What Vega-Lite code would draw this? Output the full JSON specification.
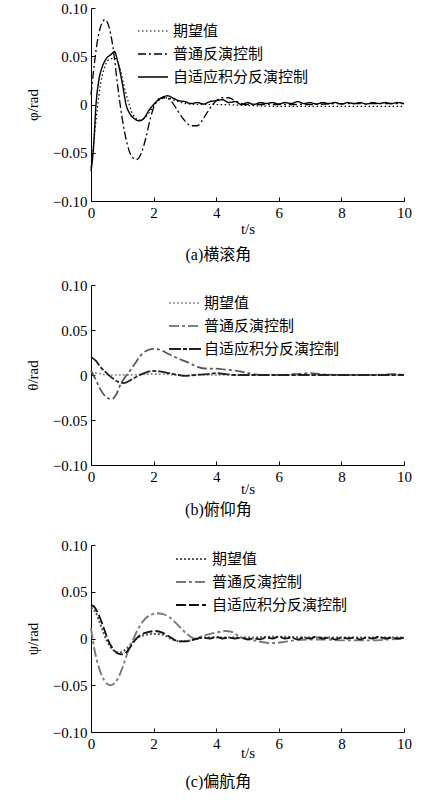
{
"$schema": "https://vega.github.io/schema/vega-lite/v6.json",
"background": "white",
"padding": {"left": 25, "top": 1, "right": 5, "bottom": 0},
"spacing": 20,
"config": {
 "view": {"stroke": null},
 "axis": {"grid": false, "domainColor": "black", "domainWidth": 1, "tickColor": "black", "tickSize": -4, "labelPadding": 8, "labelFont": "Liberation Serif, Times New Roman, serif", "labelFontSize": 15, "labelColor": "black", "titleFont": "Liberation Serif, Times New Roman, serif", "titleFontSize": 15, "titleFontWeight": "normal", "titleColor": "black"},
 "axisY": {"titlePadding": 12},
 "axisX": {"titlePadding": 1, "labelFlush": false},
 "legend": {"orient": "none", "title": null, "labelFont": "Noto Sans CJK SC", "labelFontSize": 15, "labelColor": "black", "symbolType": "M-1.5,0H1.5", "symbolSize": 400, "rowPadding": 4, "padding": 0},
 "title": {"font": "Liberation Serif, Noto Sans CJK SC", "fontSize": 16, "fontWeight": "normal", "color": "black", "orient": "bottom", "frame": "bounds", "anchor": "middle"}
},
"resolve": {"scale": {"x": "independent", "y": "independent", "color": "independent", "strokeDash": "independent", "strokeWidth": "independent"}, "legend": {"color": "independent", "strokeDash": "independent", "strokeWidth": "independent"}},
"vconcat": [
{
"spacing": 15,
"resolve": {"scale": {"x": "independent", "y": "independent", "color": "independent", "strokeDash": "independent", "strokeWidth": "independent"}, "legend": {"color": "independent", "strokeDash": "independent", "strokeWidth": "independent"}},
"vconcat": [
{
 "width": 313, "height": 193,
 "title": {"text": "(a)横滚角", "offset": 11},
 "data": {"values": [
  {"s":"期望值","t":0,"v":-0.065},{"s":"期望值","t":0.1,"v":-0.035},{"s":"期望值","t":0.2,"v":-0.005},{"s":"期望值","t":0.3,"v":0.02},{"s":"期望值","t":0.45,"v":0.04},{"s":"期望值","t":0.6,"v":0.047},{"s":"期望值","t":0.75,"v":0.048},{"s":"期望值","t":0.9,"v":0.04},{"s":"期望值","t":1.05,"v":0.02},{"s":"期望值","t":1.2,"v":0.002},{"s":"期望值","t":1.35,"v":-0.011},{"s":"期望值","t":1.55,"v":-0.016},{"s":"期望值","t":1.75,"v":-0.013},{"s":"期望值","t":1.95,"v":-0.004},{"s":"期望值","t":2.15,"v":0.004},{"s":"期望值","t":2.4,"v":0.007},{"s":"期望值","t":2.7,"v":0.004},{"s":"期望值","t":3.0,"v":0.001},{"s":"期望值","t":3.5,"v":0},{"s":"期望值","t":4,"v":0},{"s":"期望值","t":5,"v":-0.001},{"s":"期望值","t":6,"v":-0.002},{"s":"期望值","t":7,"v":-0.002},{"s":"期望值","t":8,"v":-0.002},{"s":"期望值","t":9,"v":-0.002},{"s":"期望值","t":10,"v":-0.002},
  {"s":"普通反演控制","t":0,"v":0.01},{"s":"普通反演控制","t":0.1,"v":0.04},{"s":"普通反演控制","t":0.2,"v":0.065},{"s":"普通反演控制","t":0.3,"v":0.08},{"s":"普通反演控制","t":0.45,"v":0.088},{"s":"普通反演控制","t":0.55,"v":0.083},{"s":"普通反演控制","t":0.7,"v":0.06},{"s":"普通反演控制","t":0.85,"v":0.02},{"s":"普通反演控制","t":1.0,"v":-0.015},{"s":"普通反演控制","t":1.15,"v":-0.04},{"s":"普通反演控制","t":1.3,"v":-0.054},{"s":"普通反演控制","t":1.45,"v":-0.057},{"s":"普通反演控制","t":1.6,"v":-0.051},{"s":"普通反演控制","t":1.75,"v":-0.035},{"s":"普通反演控制","t":1.9,"v":-0.014},{"s":"普通反演控制","t":2.05,"v":0.001},{"s":"普通反演控制","t":2.2,"v":0.006},{"s":"普通反演控制","t":2.4,"v":0.007},{"s":"普通反演控制","t":2.6,"v":0.002},{"s":"普通反演控制","t":2.8,"v":-0.008},{"s":"普通反演控制","t":3.0,"v":-0.017},{"s":"普通反演控制","t":3.2,"v":-0.022},{"s":"普通反演控制","t":3.4,"v":-0.022},{"s":"普通反演控制","t":3.6,"v":-0.014},{"s":"普通反演控制","t":3.8,"v":-0.004},{"s":"普通反演控制","t":4.0,"v":0.004},{"s":"普通反演控制","t":4.2,"v":0.007},{"s":"普通反演控制","t":4.4,"v":0.007},{"s":"普通反演控制","t":4.6,"v":0.004},{"s":"普通反演控制","t":4.8,"v":0.001},{"s":"普通反演控制","t":5.0,"v":0},{"s":"普通反演控制","t":6,"v":0},{"s":"普通反演控制","t":7,"v":0},{"s":"普通反演控制","t":8,"v":0.001},{"s":"普通反演控制","t":9,"v":0.001},{"s":"普通反演控制","t":10,"v":0.001},
  {"s":"自适应积分反演控制","t":0,"v":-0.069},{"s":"自适应积分反演控制","t":0.08,"v":-0.045},{"s":"自适应积分反演控制","t":0.16,"v":0},{"s":"自适应积分反演控制","t":0.25,"v":0.025},{"s":"自适应积分反演控制","t":0.35,"v":0.038},{"s":"自适应积分反演控制","t":0.5,"v":0.048},{"s":"自适应积分反演控制","t":0.65,"v":0.052},{"s":"自适应积分反演控制","t":0.75,"v":0.055},{"s":"自适应积分反演控制","t":0.85,"v":0.045},{"s":"自适应积分反演控制","t":1.0,"v":0.022},{"s":"自适应积分反演控制","t":1.12,"v":0},{"s":"自适应积分反演控制","t":1.25,"v":-0.01},{"s":"自适应积分反演控制","t":1.4,"v":-0.015},{"s":"自适应积分反演控制","t":1.55,"v":-0.017},{"s":"自适应积分反演控制","t":1.7,"v":-0.014},{"s":"自适应积分反演控制","t":1.85,"v":-0.006},{"s":"自适应积分反演控制","t":2.0,"v":0},{"s":"自适应积分反演控制","t":2.2,"v":0.006},{"s":"自适应积分反演控制","t":2.45,"v":0.009},{"s":"自适应积分反演控制","t":2.6,"v":0.007},{"s":"自适应积分反演控制","t":2.8,"v":0.004},{"s":"自适应积分反演控制","t":3.0,"v":0.003},{"s":"自适应积分反演控制","t":3.2,"v":0.001},{"s":"自适应积分反演控制","t":3.4,"v":0.002},{"s":"自适应积分反演控制","t":3.6,"v":0.0005},{"s":"自适应积分反演控制","t":3.8,"v":0.003},{"s":"自适应积分反演控制","t":4.0,"v":0.004},{"s":"自适应积分反演控制","t":4.2,"v":0.005},{"s":"自适应积分反演控制","t":4.4,"v":0.002},{"s":"自适应积分反演控制","t":4.6,"v":0.003},{"s":"自适应积分反演控制","t":4.8,"v":0},{"s":"自适应积分反演控制","t":5.0,"v":0.002},{"s":"自适应积分反演控制","t":5.2,"v":0},{"s":"自适应积分反演控制","t":5.4,"v":0.002},{"s":"自适应积分反演控制","t":5.6,"v":0.001},{"s":"自适应积分反演控制","t":5.8,"v":0.002},{"s":"自适应积分反演控制","t":6.0,"v":0.0005},{"s":"自适应积分反演控制","t":6.2,"v":0.002},{"s":"自适应积分反演控制","t":6.4,"v":0.001},{"s":"自适应积分反演控制","t":6.6,"v":0.003},{"s":"自适应积分反演控制","t":6.8,"v":0.001},{"s":"自适应积分反演控制","t":7.0,"v":0.002},{"s":"自适应积分反演控制","t":7.2,"v":0.0005},{"s":"自适应积分反演控制","t":7.4,"v":0.002},{"s":"自适应积分反演控制","t":7.6,"v":0.001},{"s":"自适应积分反演控制","t":7.8,"v":0.002},{"s":"自适应积分反演控制","t":8.0,"v":0.0005},{"s":"自适应积分反演控制","t":8.2,"v":0.002},{"s":"自适应积分反演控制","t":8.4,"v":0.001},{"s":"自适应积分反演控制","t":8.6,"v":0.002},{"s":"自适应积分反演控制","t":8.8,"v":0.0005},{"s":"自适应积分反演控制","t":9.0,"v":0.002},{"s":"自适应积分反演控制","t":9.2,"v":0.001},{"s":"自适应积分反演控制","t":9.4,"v":0.002},{"s":"自适应积分反演控制","t":9.6,"v":0.001},{"s":"自适应积分反演控制","t":9.8,"v":0.002},{"s":"自适应积分反演控制","t":10,"v":0.001}
 ]},
 "mark": {"type": "line", "interpolate": "monotone"},
 "encoding": {
  "x": {"field": "t", "type": "quantitative", "scale": {"domain": [0, 10], "nice": false, "zero": false}, "axis": {"title": "t/s", "values": [0, 2, 4, 6, 8, 10]}},
  "y": {"field": "v", "type": "quantitative", "scale": {"domain": [-0.1, 0.1], "nice": false}, "axis": {"title": "φ/rad", "values": [-0.1, -0.05, 0, 0.05, 0.1], "labelExpr": "datum.value == 0 ? '0' : format(datum.value, '.2f')"}},
  "color": {"field": "s", "type": "nominal", "scale": {"domain": ["期望值", "普通反演控制", "自适应积分反演控制"], "range": ["#000000", "#000000", "#000000"]}, "legend": {"legendX": 51, "legendY": 12, "labelOffset": 9}},
  "strokeDash": {"field": "s", "type": "nominal", "scale": {"domain": ["期望值", "普通反演控制", "自适应积分反演控制"], "range": [[1.5, 2.5], [8, 3, 2, 3], [1, 0]]}},
  "strokeWidth": {"field": "s", "type": "nominal", "scale": {"domain": ["期望值", "普通反演控制", "自适应积分反演控制"], "range": [1.2, 1.4, 2.2]}}
 }
},
{
 "width": 313, "height": 180,
 "title": {"text": "(b)俯仰角", "offset": 6},
 "data": {"values": [
  {"s":"期望值","t":0,"v":0.003},{"s":"期望值","t":0.2,"v":0.002},{"s":"期望值","t":0.4,"v":0.0005},{"s":"期望值","t":0.6,"v":0},{"s":"期望值","t":1,"v":0},{"s":"期望值","t":2,"v":0.001},{"s":"期望值","t":3,"v":0},{"s":"期望值","t":5,"v":0},{"s":"期望值","t":7,"v":0},{"s":"期望值","t":10,"v":0},
  {"s":"普通反演控制","t":0,"v":0.005},{"s":"普通反演控制","t":0.15,"v":-0.005},{"s":"普通反演控制","t":0.3,"v":-0.016},{"s":"普通反演控制","t":0.5,"v":-0.025},{"s":"普通反演控制","t":0.67,"v":-0.027},{"s":"普通反演控制","t":0.8,"v":-0.022},{"s":"普通反演控制","t":0.95,"v":-0.01},{"s":"普通反演控制","t":1.1,"v":-0.002},{"s":"普通反演控制","t":1.25,"v":0.005},{"s":"普通反演控制","t":1.45,"v":0.015},{"s":"普通反演控制","t":1.65,"v":0.024},{"s":"普通反演控制","t":1.85,"v":0.028},{"s":"普通反演控制","t":2.0,"v":0.029},{"s":"普通反演控制","t":2.2,"v":0.028},{"s":"普通反演控制","t":2.5,"v":0.023},{"s":"普通反演控制","t":2.8,"v":0.018},{"s":"普通反演控制","t":3.1,"v":0.014},{"s":"普通反演控制","t":3.4,"v":0.009},{"s":"普通反演控制","t":3.7,"v":0.007},{"s":"普通反演控制","t":4.0,"v":0.007},{"s":"普通反演控制","t":4.3,"v":0.006},{"s":"普通反演控制","t":4.6,"v":0.005},{"s":"普通反演控制","t":4.9,"v":0.003},{"s":"普通反演控制","t":5.2,"v":0.001},{"s":"普通反演控制","t":5.5,"v":0},{"s":"普通反演控制","t":6,"v":0},{"s":"普通反演控制","t":6.5,"v":0.001},{"s":"普通反演控制","t":7,"v":0.002},{"s":"普通反演控制","t":7.3,"v":0.001},{"s":"普通反演控制","t":8,"v":0},{"s":"普通反演控制","t":9,"v":0},{"s":"普通反演控制","t":9.7,"v":0.001},{"s":"普通反演控制","t":10,"v":0},
  {"s":"自适应积分反演控制","t":0,"v":0.02},{"s":"自适应积分反演控制","t":0.15,"v":0.016},{"s":"自适应积分反演控制","t":0.3,"v":0.009},{"s":"自适应积分反演控制","t":0.5,"v":0.002},{"s":"自适应积分反演控制","t":0.7,"v":-0.004},{"s":"自适应积分反演控制","t":0.9,"v":-0.008},{"s":"自适应积分反演控制","t":1.05,"v":-0.009},{"s":"自适应积分反演控制","t":1.25,"v":-0.006},{"s":"自适应积分反演控制","t":1.45,"v":-0.002},{"s":"自适应积分反演控制","t":1.7,"v":0.002},{"s":"自适应积分反演控制","t":1.95,"v":0.0045},{"s":"自适应积分反演控制","t":2.2,"v":0.004},{"s":"自适应积分反演控制","t":2.5,"v":0.002},{"s":"自适应积分反演控制","t":2.8,"v":0},{"s":"自适应积分反演控制","t":3.0,"v":-0.001},{"s":"自适应积分反演控制","t":3.3,"v":0},{"s":"自适应积分反演控制","t":3.7,"v":0.001},{"s":"自适应积分反演控制","t":4.0,"v":0.002},{"s":"自适应积分反演控制","t":4.3,"v":0.001},{"s":"自适应积分反演控制","t":4.6,"v":0},{"s":"自适应积分反演控制","t":5,"v":0},{"s":"自适应积分反演控制","t":6,"v":0},{"s":"自适应积分反演控制","t":7,"v":0},{"s":"自适应积分反演控制","t":8,"v":0},{"s":"自适应积分反演控制","t":9,"v":0},{"s":"自适应积分反演控制","t":10,"v":0}
 ]},
 "mark": {"type": "line", "interpolate": "monotone"},
 "encoding": {
  "x": {"field": "t", "type": "quantitative", "scale": {"domain": [0, 10], "nice": false, "zero": false}, "axis": {"title": "t/s", "values": [0, 2, 4, 6, 8, 10], "titlePadding": -3}},
  "y": {"field": "v", "type": "quantitative", "scale": {"domain": [-0.1, 0.1], "nice": false}, "axis": {"title": "θ/rad", "values": [-0.1, -0.05, 0, 0.05, 0.1], "labelExpr": "datum.value == 0 ? '0' : format(datum.value, '.2f')"}},
  "color": {"field": "s", "type": "nominal", "scale": {"domain": ["期望值", "普通反演控制", "自适应积分反演控制"], "range": ["#888888", "#555555", "#222222"]}, "legend": {"legendX": 83, "legendY": 7, "labelOffset": 8, "symbolType": "M-1.6,0H1.6"}},
  "strokeDash": {"field": "s", "type": "nominal", "scale": {"domain": ["期望值", "普通反演控制", "自适应积分反演控制"], "range": [[2, 2], [10, 3, 3, 3], [12, 2, 4, 2]]}},
  "strokeWidth": {"field": "s", "type": "nominal", "scale": {"domain": ["期望值", "普通反演控制", "自适应积分反演控制"], "range": [1.6, 1.8, 2.2]}}
 }
}
]
},
{
 "width": 313, "height": 187,
 "title": {"text": "(c)偏航角", "offset": 14},
 "data": {"values": [
  {"s":"期望值","t":0,"v":0.033},{"s":"期望值","t":0.15,"v":0.028},{"s":"期望值","t":0.3,"v":0.015},{"s":"期望值","t":0.5,"v":-0.002},{"s":"期望值","t":0.7,"v":-0.012},{"s":"期望值","t":0.9,"v":-0.015},{"s":"期望值","t":1.1,"v":-0.012},{"s":"期望值","t":1.3,"v":-0.005},{"s":"期望值","t":1.5,"v":0.001},{"s":"期望值","t":1.75,"v":0.004},{"s":"期望值","t":2.0,"v":0.005},{"s":"期望值","t":2.3,"v":0.004},{"s":"期望值","t":2.6,"v":-0.001},{"s":"期望值","t":2.9,"v":-0.003},{"s":"期望值","t":3.2,"v":-0.002},{"s":"期望值","t":3.6,"v":0.001},{"s":"期望值","t":4,"v":0.001},{"s":"期望值","t":5,"v":0.001},{"s":"期望值","t":6,"v":0.002},{"s":"期望值","t":7,"v":0.001},{"s":"期望值","t":8,"v":0.001},{"s":"期望值","t":9,"v":0.001},{"s":"期望值","t":10,"v":0.001},
  {"s":"普通反演控制","t":0,"v":0.011},{"s":"普通反演控制","t":0.1,"v":-0.01},{"s":"普通反演控制","t":0.2,"v":-0.025},{"s":"普通反演控制","t":0.35,"v":-0.04},{"s":"普通反演控制","t":0.5,"v":-0.048},{"s":"普通反演控制","t":0.62,"v":-0.05},{"s":"普通反演控制","t":0.75,"v":-0.048},{"s":"普通反演控制","t":0.9,"v":-0.04},{"s":"普通反演控制","t":1.05,"v":-0.027},{"s":"普通反演控制","t":1.2,"v":-0.012},{"s":"普通反演控制","t":1.36,"v":0},{"s":"普通反演控制","t":1.5,"v":0.01},{"s":"普通反演控制","t":1.7,"v":0.02},{"s":"普通反演控制","t":1.9,"v":0.025},{"s":"普通反演控制","t":2.1,"v":0.027},{"s":"普通反演控制","t":2.3,"v":0.026},{"s":"普通反演控制","t":2.5,"v":0.023},{"s":"普通反演控制","t":2.7,"v":0.017},{"s":"普通反演控制","t":2.9,"v":0.01},{"s":"普通反演控制","t":3.1,"v":0.004},{"s":"普通反演控制","t":3.33,"v":0},{"s":"普通反演控制","t":3.5,"v":0.002},{"s":"普通反演控制","t":3.8,"v":0.005},{"s":"普通反演控制","t":4.1,"v":0.007},{"s":"普通反演控制","t":4.3,"v":0.008},{"s":"普通反演控制","t":4.5,"v":0.007},{"s":"普通反演控制","t":4.7,"v":0.003},{"s":"普通反演控制","t":4.9,"v":0},{"s":"普通反演控制","t":5.2,"v":-0.002},{"s":"普通反演控制","t":5.5,"v":-0.004},{"s":"普通反演控制","t":5.8,"v":-0.005},{"s":"普通反演控制","t":6.1,"v":-0.004},{"s":"普通反演控制","t":6.5,"v":-0.002},{"s":"普通反演控制","t":7,"v":-0.001},{"s":"普通反演控制","t":7.5,"v":-0.001},{"s":"普通反演控制","t":8,"v":-0.002},{"s":"普通反演控制","t":8.5,"v":-0.002},{"s":"普通反演控制","t":9,"v":-0.002},{"s":"普通反演控制","t":9.5,"v":-0.001},{"s":"普通反演控制","t":10,"v":0},
  {"s":"自适应积分反演控制","t":0,"v":0.036},{"s":"自适应积分反演控制","t":0.1,"v":0.034},{"s":"自适应积分反演控制","t":0.25,"v":0.025},{"s":"自适应积分反演控制","t":0.4,"v":0.012},{"s":"自适应积分反演控制","t":0.55,"v":-0.002},{"s":"自适应积分反演控制","t":0.7,"v":-0.011},{"s":"自适应积分反演控制","t":0.85,"v":-0.016},{"s":"自适应积分反演控制","t":1.0,"v":-0.017},{"s":"自适应积分反演控制","t":1.15,"v":-0.014},{"s":"自适应积分反演控制","t":1.3,"v":-0.007},{"s":"自适应积分反演控制","t":1.45,"v":0},{"s":"自适应积分反演控制","t":1.65,"v":0.005},{"s":"自适应积分反演控制","t":1.85,"v":0.007},{"s":"自适应积分反演控制","t":2.05,"v":0.008},{"s":"自适应积分反演控制","t":2.3,"v":0.006},{"s":"自适应积分反演控制","t":2.55,"v":0.001},{"s":"自适应积分反演控制","t":2.8,"v":-0.003},{"s":"自适应积分反演控制","t":3.0,"v":-0.003},{"s":"自适应积分反演控制","t":3.3,"v":-0.001},{"s":"自适应积分反演控制","t":3.6,"v":0.001},{"s":"自适应积分反演控制","t":3.8,"v":0},{"s":"自适应积分反演控制","t":4.0,"v":0.002},{"s":"自适应积分反演控制","t":4.2,"v":0},{"s":"自适应积分反演控制","t":4.4,"v":0.001},{"s":"自适应积分反演控制","t":4.6,"v":0},{"s":"自适应积分反演控制","t":4.8,"v":0.001},{"s":"自适应积分反演控制","t":5.0,"v":-0.001},{"s":"自适应积分反演控制","t":5.2,"v":0},{"s":"自适应积分反演控制","t":5.4,"v":-0.001},{"s":"自适应积分反演控制","t":5.6,"v":0.001},{"s":"自适应积分反演控制","t":5.8,"v":0},{"s":"自适应积分反演控制","t":6.0,"v":0.002},{"s":"自适应积分反演控制","t":6.2,"v":0},{"s":"自适应积分反演控制","t":6.4,"v":0.001},{"s":"自适应积分反演控制","t":6.6,"v":-0.001},{"s":"自适应积分反演控制","t":6.8,"v":0.001},{"s":"自适应积分反演控制","t":7.0,"v":0},{"s":"自适应积分反演控制","t":7.2,"v":0.002},{"s":"自适应积分反演控制","t":7.4,"v":0},{"s":"自适应积分反演控制","t":7.6,"v":0.001},{"s":"自适应积分反演控制","t":7.8,"v":-0.001},{"s":"自适应积分反演控制","t":8.0,"v":0.001},{"s":"自适应积分反演控制","t":8.2,"v":0},{"s":"自适应积分反演控制","t":8.4,"v":0.001},{"s":"自适应积分反演控制","t":8.6,"v":-0.001},{"s":"自适应积分反演控制","t":8.8,"v":0.001},{"s":"自适应积分反演控制","t":9.0,"v":0},{"s":"自适应积分反演控制","t":9.2,"v":0.002},{"s":"自适应积分反演控制","t":9.4,"v":0},{"s":"自适应积分反演控制","t":9.6,"v":0.001},{"s":"自适应积分反演控制","t":9.8,"v":0},{"s":"自适应积分反演控制","t":10,"v":0.001}
 ]},
 "mark": {"type": "line", "interpolate": "monotone"},
 "encoding": {
  "x": {"field": "t", "type": "quantitative", "scale": {"domain": [0, 10], "nice": false, "zero": false}, "axis": {"title": "t/s", "values": [0, 2, 4, 6, 8, 10], "titlePadding": -6}},
  "y": {"field": "v", "type": "quantitative", "scale": {"domain": [-0.1, 0.1], "nice": false}, "axis": {"title": "ψ/rad", "values": [-0.1, -0.05, 0, 0.05, 0.1], "labelExpr": "datum.value == 0 ? '0' : format(datum.value, '.2f')"}},
  "color": {"field": "s", "type": "nominal", "scale": {"domain": ["期望值", "普通反演控制", "自适应积分反演控制"], "range": ["#555555", "#777777", "#111111"]}, "legend": {"legendX": 89, "legendY": 3, "labelOffset": 10}},
  "strokeDash": {"field": "s", "type": "nominal", "scale": {"domain": ["期望值", "普通反演控制", "自适应积分反演控制"], "range": [[2, 2], [10, 3, 3, 3], [10, 3]]}},
  "strokeWidth": {"field": "s", "type": "nominal", "scale": {"domain": ["期望值", "普通反演控制", "自适应积分反演控制"], "range": [2, 1.8, 2.6]}}
 }
}
]
}
